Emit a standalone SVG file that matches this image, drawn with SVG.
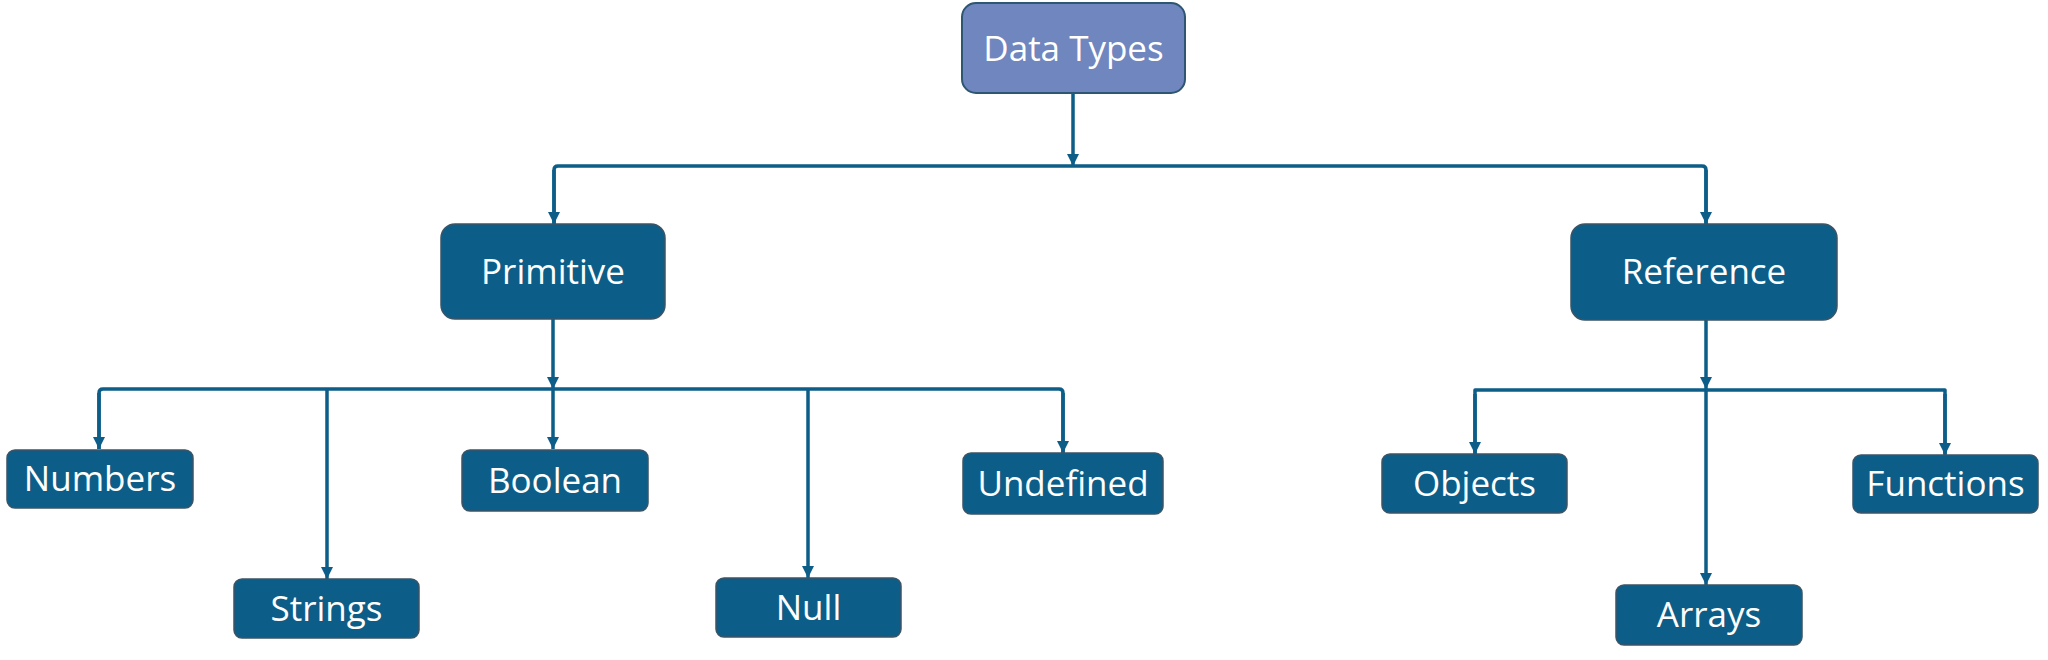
<svg xmlns="http://www.w3.org/2000/svg" width="2048" height="660" viewBox="0 0 2048 660">
<style>
.box{fill:#0c5e88;stroke:#3b5466;stroke-width:1.5}
.top{fill:#6f86be;stroke:#2e5571;stroke-width:2}
.lbl{fill:#ffffff;font-family:"Open Sans","Noto Sans",sans-serif;font-size:35px;text-anchor:middle}
.ln{fill:none;stroke:#0c5e88;stroke-width:3.5;stroke-linejoin:round}
</style>
<defs>
<marker id="ah" markerWidth="13" markerHeight="13" refX="12" refY="6.5" orient="auto" markerUnits="userSpaceOnUse">
<path d="M0,0.5 L12,6.5 L0,12.5 z" fill="#0c5e88"/>
</marker>
</defs>
<g id="connectors">
<path class="ln" d="M1073,93 V166" marker-end="url(#ah)"/>
<path class="ln" d="M554,224 V170 Q554,166 558,166 H1702 Q1706,166 1706,170 V224" />
<path class="ln" d="M554,170 V224" marker-end="url(#ah)"/>
<path class="ln" d="M1706,170 V224" marker-end="url(#ah)"/>
<path class="ln" d="M553,319 V389" marker-end="url(#ah)"/>
<path class="ln" d="M553,389 V449" marker-end="url(#ah)"/>
<path class="ln" d="M99,449 V393 Q99,389 103,389 H1059 Q1063,389 1063,393 V453" />
<path class="ln" d="M99,393 V449" marker-end="url(#ah)"/>
<path class="ln" d="M1063,393 V453" marker-end="url(#ah)"/>
<path class="ln" d="M327,389 V579" marker-end="url(#ah)"/>
<path class="ln" d="M808,389 V578" marker-end="url(#ah)"/>
<path class="ln" d="M1706,320 V389" marker-end="url(#ah)"/>
<path class="ln" d="M1706,389 V585" marker-end="url(#ah)"/>
<path class="ln" d="M1475,454 V390 H1945 V454" />
<path class="ln" d="M1475,394 V454" marker-end="url(#ah)"/>
<path class="ln" d="M1945,394 V455" marker-end="url(#ah)"/>
</g>
<g id="data-types">
<rect class="top" x="962" y="3" width="223" height="90" rx="14"/>
<text class="lbl" x="1073.5" y="61">Data Types</text>
</g>
<g id="primitive">
<rect class="box" x="441" y="224" width="224" height="95" rx="14"/>
<text class="lbl" x="553" y="284">Primitive</text>
</g>
<g id="reference">
<rect class="box" x="1571" y="224" width="266" height="96" rx="14"/>
<text class="lbl" x="1704" y="284">Reference</text>
</g>
<g id="numbers">
<rect class="box" x="7" y="450" width="186" height="58" rx="8"/>
<text class="lbl" x="100" y="491">Numbers</text>
</g>
<g id="strings">
<rect class="box" x="234" y="579" width="185" height="59" rx="8"/>
<text class="lbl" x="326.5" y="621">Strings</text>
</g>
<g id="boolean">
<rect class="box" x="462" y="450" width="186" height="61" rx="8"/>
<text class="lbl" x="555" y="493">Boolean</text>
</g>
<g id="null">
<rect class="box" x="716" y="578" width="185" height="59" rx="8"/>
<text class="lbl" x="808.5" y="620">Null</text>
</g>
<g id="undefined">
<rect class="box" x="963" y="453" width="200" height="61" rx="8"/>
<text class="lbl" x="1063" y="496">Undefined</text>
</g>
<g id="objects">
<rect class="box" x="1382" y="454" width="185" height="59" rx="8"/>
<text class="lbl" x="1474.5" y="496">Objects</text>
</g>
<g id="arrays">
<rect class="box" x="1616" y="585" width="186" height="60" rx="8"/>
<text class="lbl" x="1709" y="627">Arrays</text>
</g>
<g id="functions">
<rect class="box" x="1853" y="455" width="185" height="58" rx="8"/>
<text class="lbl" x="1945.5" y="496">Functions</text>
</g>
</svg>
